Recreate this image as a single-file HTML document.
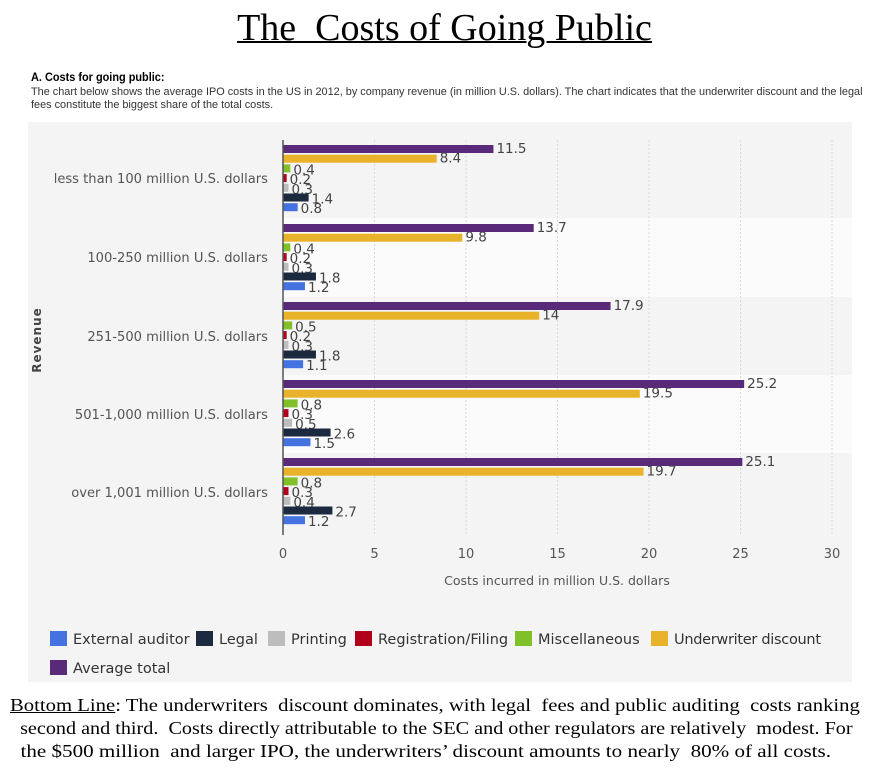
<!DOCTYPE html>
<html><head><style>
body{margin:0;width:889px;height:768px;background:#fff;overflow:hidden;position:relative;font-family:"Liberation Sans",sans-serif}
.t{position:absolute;white-space:nowrap}
.b{position:absolute;left:10px;white-space:pre;font-family:'Liberation Serif',serif;font-size:18px;transform-origin:left}
</style></head><body>
<div class="t" style="left:0;width:889px;top:6px;text-align:center;font-family:'Liberation Serif',serif;font-size:38px;text-decoration:underline;text-decoration-thickness:2px">The&nbsp; Costs of Going Public</div>
<div class="t" style="left:31px;top:72px;font-size:11.5px;font-weight:bold;transform:scaleX(0.95);transform-origin:left">A. Costs for going public:</div>
<div class="t" style="left:31px;top:86px;font-size:11px;color:#333;transform:scaleX(0.99);transform-origin:left;line-height:13px">The chart below shows the average IPO costs in the US in 2012, by company revenue (in million U.S. dollars). The chart indicates that the underwriter discount and the legal<br>fees constitute the biggest share of the total costs.</div>
<svg style="position:absolute;left:0;top:0" width="889" height="768" font-family="DejaVu Sans, sans-serif">
<rect x="28" y="122" width="824" height="560" fill="#f4f4f4"/>
<rect x="283" y="218" width="569" height="79" fill="#fbfbfb"/>
<rect x="283" y="375" width="569" height="78" fill="#fbfbfb"/>
<g stroke="#d8d8d8" stroke-dasharray="2,2">
<line x1="374.5" y1="140" x2="374.5" y2="535"/><line x1="466" y1="140" x2="466" y2="535"/><line x1="557.5" y1="140" x2="557.5" y2="535"/><line x1="649" y1="140" x2="649" y2="535"/><line x1="740.5" y1="140" x2="740.5" y2="535"/><line x1="832" y1="140" x2="832" y2="535"/>
</g>
<g id="bars"></g>
<line x1="283" y1="140" x2="283" y2="535" stroke="#555" stroke-width="1.5"/>
<g font-size="13" fill="#555" text-anchor="middle">
<text x="283" y="558">0</text><text x="374.5" y="558">5</text><text x="466" y="558">10</text><text x="557.5" y="558">15</text><text x="649" y="558">20</text><text x="740.5" y="558">25</text><text x="832" y="558">30</text>
<text x="557" y="585" font-size="12.5">Costs incurred in million U.S. dollars</text>
</g>
<text transform="translate(41,340) rotate(-90)" text-anchor="middle" font-size="12" font-weight="bold" fill="#444" letter-spacing="1">Revenue</text>
<g font-size="13.5" fill="#555" text-anchor="end" transform="translate(268,0) scale(0.97,1) translate(-268,0)">
<text x="268" y="183">less than 100 million U.S. dollars</text>
<text x="268" y="262">100-250 million U.S. dollars</text>
<text x="268" y="341">251-500 million U.S. dollars</text>
<text x="268" y="419">501-1,000 million U.S. dollars</text>
<text x="268" y="497">over 1,001 million U.S. dollars</text>
</g>
<g font-size="14.5" fill="#333">
<rect x="50" y="631" width="17" height="15" fill="#4472e0"/><text x="73" y="644">External auditor</text>
<rect x="196" y="631" width="17" height="15" fill="#1c2a40"/><text x="219" y="644">Legal</text>
<rect x="268" y="631" width="17" height="15" fill="#bdbdbd"/><text x="291" y="644">Printing</text>
<rect x="355" y="631" width="17" height="15" fill="#b0001a"/><text x="378" y="644">Registration/Filing</text>
<rect x="515" y="631" width="17" height="15" fill="#80c028"/><text x="538" y="644">Miscellaneous</text>
<rect x="651" y="631" width="17" height="15" fill="#e8b22a"/><text x="674" y="644" textLength="147">Underwriter discount</text>
<rect x="50" y="660" width="17" height="15" fill="#5a2a7a"/><text x="73" y="673">Average total</text>
</g>
</svg>
<div class="b" style="top:695px;transform:scaleX(1.15)"><u>Bottom Line</u>: The underwriters  discount dominates, with legal  fees and public auditing  costs ranking</div>
<div class="b" style="top:718px;transform:scaleX(1.12)">  second and third.  Costs directly attributable to the SEC and other regulators are relatively  modest. For</div>
<div class="b" style="top:741px;transform:scaleX(1.17)">  the $500 million  and larger IPO, the underwriters’ discount amounts to nearly  80% of all costs.</div>
<script>
var data=[[11.5,8.4,0.4,0.2,0.3,1.4,0.8],[13.7,9.8,0.4,0.2,0.3,1.8,1.2],[17.9,14,0.5,0.2,0.3,1.8,1.1],[25.2,19.5,0.8,0.3,0.5,2.6,1.5],[25.1,19.7,0.8,0.3,0.4,2.7,1.2]];
var cols=["#5a2a7a","#e8b22a","#80c028","#b0001a","#bdbdbd","#1c2a40","#4472e0"];
var tops=[145,224,302,380,458],s="",k=18.3;
data.forEach(function(g,i){g.forEach(function(v,j){var y=tops[i]+j*9.7,w=v*k;
s+='<rect x="283" y="'+y+'" width="'+w+'" height="8" fill="'+cols[j]+'"/>';
s+='<text x="'+(286+w)+'" y="'+(y+(j<2?8:10))+'" font-size="13.5" fill="#444">'+v+'</text>';});});
document.getElementById("bars").innerHTML=s;
</script>
</body></html>
